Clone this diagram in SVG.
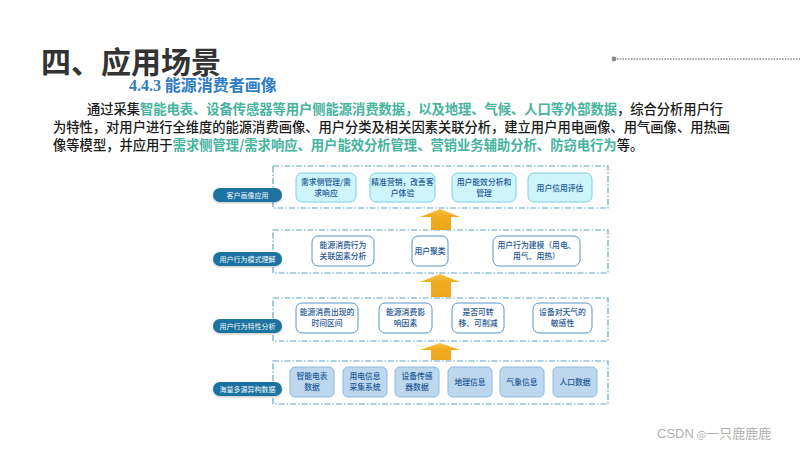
<svg xmlns="http://www.w3.org/2000/svg" width="800" height="450" viewBox="0 0 800 450">
<style>
  text { font-family: "Noto Sans CJK SC", "Liberation Sans", sans-serif; }
  .title { font-size: 30px; font-weight: bold; fill: #333333; }
  .sub { font-size: 16px; font-weight: bold; fill: #2e7cc4; }
  .para { font-size: 13.3px; fill: #1a1a1a; font-weight: 500; }
  .hl { fill: #45b39d; font-weight: bold; }
  .layer { fill: none; stroke: #5ea6c9; stroke-width: 1.2; stroke-dasharray: 6 2 1.5 2; }
  .pill { fill: #1b73a0; }
  .pilltxt { font-size: 7px; fill: #f2f8fc; text-anchor: middle; }
  .b1 { fill: #cdf5fb; stroke: #7ccfe0; stroke-width: 1; }
  .b2 { fill: #ffffff; stroke: #5a94c6; stroke-width: 1; }
  .b4 { fill: #bcd7ee; stroke: #8fb8dc; stroke-width: 1; }
  .bt { font-size: 7.8px; fill: #1d5794; text-anchor: middle; font-weight: 500; }
  .arrow { fill: url(#ag); }
  .wm { font-size: 13px; fill: #b0b0b0; }
</style>
<defs>
  <linearGradient id="ag" x1="0" y1="0" x2="0" y2="1">
    <stop offset="0" stop-color="#f7c34c"/>
    <stop offset="0.35" stop-color="#f0ab1f"/>
    <stop offset="1" stop-color="#eda71a"/>
  </linearGradient>
  <filter id="sh" x="-20%" y="-40%" width="140%" height="180%">
    <feDropShadow dx="0" dy="1" stdDeviation="1" flood-color="#000" flood-opacity="0.25"/>
  </filter>
</defs>
<rect width="800" height="450" fill="#ffffff"/>

<g id="header">
  <text class="title" x="41" y="73">四、应用场景</text>
  <line x1="614" y1="59" x2="800" y2="59" stroke="#8a8a8a" stroke-width="1.6" stroke-dasharray="1.6 1.2"/>
  <circle cx="614" cy="59" r="2.4" fill="#8a8a8a"/>
  <text class="sub" x="129" y="91"><tspan font-family="Liberation Serif, serif">4.4.3</tspan> 能源消费者画像</text>
</g>

<g id="paragraph">
  <text class="para" x="87" y="114" textLength="636" lengthAdjust="spacing">通过采集<tspan class="hl">智能电表、设备传感器等用户侧能源消费数据，以及地理、气候、人口等外部数据</tspan>，综合分析用户行</text>
  <text class="para" x="53" y="132" textLength="677" lengthAdjust="spacing">为特性，对用户进行全维度的能源消费画像、用户分类及相关因素关联分析，建立用户用电画像、用气画像、用热画</text>
  <text class="para" x="53" y="150">像等模型，并应用于<tspan class="hl">需求侧管理/需求响应、用户能效分析管理、营销业务辅助分析、防窃电行为</tspan>等。</text>
</g>

<g id="layers">
  <rect class="layer" x="273" y="166" width="335" height="42"/>
  <rect class="layer" x="273" y="230" width="335" height="43"/>
  <rect class="layer" x="273" y="298" width="335" height="43"/>
  <rect class="layer" x="273" y="361" width="335" height="43"/>
</g>

<g id="connectors">
  <path class="arrow" d="M420,217 L440,209 L460,217 L451,217 L451,230 L431,230 L431,217 Z"/>
  <path class="arrow" d="M420,282 L440,274 L460,282 L451,282 L451,297 L431,297 L431,282 Z"/>
  <path class="arrow" d="M420,350 L440,343 L460,350 L451,350 L451,360 L431,360 L431,350 Z"/>
</g>

<g id="label-app">
  <rect class="pill" x="213" y="188" width="69" height="14" rx="7" filter="url(#sh)"/>
  <text class="pilltxt" x="247.5" y="197.5">客户画像应用</text>
</g>
<g id="label-pattern">
  <rect class="pill" x="213" y="252" width="69" height="14" rx="7" filter="url(#sh)"/>
  <text class="pilltxt" x="247.5" y="261.5">用户行为模式理解</text>
</g>
<g id="label-feature">
  <rect class="pill" x="213" y="319" width="69" height="14" rx="7" filter="url(#sh)"/>
  <text class="pilltxt" x="247.5" y="328.5">用户行为特性分析</text>
</g>
<g id="label-data">
  <rect class="pill" x="213" y="382" width="69" height="14" rx="7" filter="url(#sh)"/>
  <text class="pilltxt" x="247.5" y="391.5">海量多源异构数据</text>
</g>

<g id="n-demand">
  <rect class="b1" x="296" y="173" width="60" height="29" rx="6"/>
  <text class="bt" x="326" y="185">需求侧管理/需</text>
  <text class="bt" x="326" y="196">求响应</text>
</g>
<g id="n-marketing">
  <rect class="b1" x="370" y="173" width="65" height="29" rx="6"/>
  <text class="bt" x="402.5" y="185">精准营销，改善客</text>
  <text class="bt" x="402.5" y="196">户体验</text>
</g>
<g id="n-efficiency">
  <rect class="b1" x="452" y="173" width="64" height="29" rx="6"/>
  <text class="bt" x="484" y="185">用户能效分析和</text>
  <text class="bt" x="484" y="196">管理</text>
</g>
<g id="n-credit">
  <rect class="b1" x="528" y="173" width="64" height="29" rx="6"/>
  <text class="bt" x="560" y="190.5">用户信用评估</text>
</g>

<g id="n-assoc">
  <rect class="b2" x="312" y="236" width="62" height="30" rx="6"/>
  <text class="bt" x="343" y="248">能源消费行为</text>
  <text class="bt" x="343" y="259">关联因素分析</text>
</g>
<g id="n-cluster">
  <rect class="b2" x="412" y="236" width="36" height="30" rx="6"/>
  <text class="bt" x="430" y="254">用户聚类</text>
</g>
<g id="n-model">
  <rect class="b2" x="493" y="236" width="87" height="30" rx="6"/>
  <text class="bt" x="536.5" y="248">用户行为建模（用电、</text>
  <text class="bt" x="536.5" y="259">用气、用热）</text>
</g>

<g id="n-time">
  <rect class="b2" x="296" y="303" width="62" height="30" rx="6"/>
  <text class="bt" x="327" y="315">能源消费出现的</text>
  <text class="bt" x="327" y="326">时间区间</text>
</g>
<g id="n-factor">
  <rect class="b2" x="379" y="303" width="53" height="30" rx="6"/>
  <text class="bt" x="405.5" y="315">能源消费影</text>
  <text class="bt" x="405.5" y="326">响因素</text>
</g>
<g id="n-shift">
  <rect class="b2" x="452" y="303" width="52" height="30" rx="6"/>
  <text class="bt" x="478" y="315">是否可转</text>
  <text class="bt" x="478" y="326">移、可削减</text>
</g>
<g id="n-weather">
  <rect class="b2" x="533" y="303" width="59" height="30" rx="6"/>
  <text class="bt" x="562.5" y="315">设备对天气的</text>
  <text class="bt" x="562.5" y="326">敏感性</text>
</g>

<g id="n-meter">
  <rect class="b4" x="290" y="367" width="44" height="30" rx="5"/>
  <text class="bt" x="312" y="379">智能电表</text>
  <text class="bt" x="312" y="390">数据</text>
</g>
<g id="n-collect">
  <rect class="b4" x="343" y="367" width="44" height="30" rx="5"/>
  <text class="bt" x="365" y="379">用电信息</text>
  <text class="bt" x="365" y="390">采集系统</text>
</g>
<g id="n-sensor">
  <rect class="b4" x="395" y="367" width="44" height="30" rx="5"/>
  <text class="bt" x="417" y="379">设备传感</text>
  <text class="bt" x="417" y="390">器数据</text>
</g>
<g id="n-geo">
  <rect class="b4" x="448" y="367" width="44" height="30" rx="5"/>
  <text class="bt" x="470" y="385">地理信息</text>
</g>
<g id="n-meteo">
  <rect class="b4" x="500" y="367" width="44" height="30" rx="5"/>
  <text class="bt" x="522" y="385">气象信息</text>
</g>
<g id="n-pop">
  <rect class="b4" x="553" y="367" width="44" height="30" rx="5"/>
  <text class="bt" x="575" y="385">人口数据</text>
</g>

<g id="watermark">
  <text class="wm" x="657" y="438"><tspan font-family="Liberation Sans, sans-serif">CSDN</tspan> <tspan font-size="10">@</tspan>一只鹿鹿鹿</text>
</g>
</svg>
